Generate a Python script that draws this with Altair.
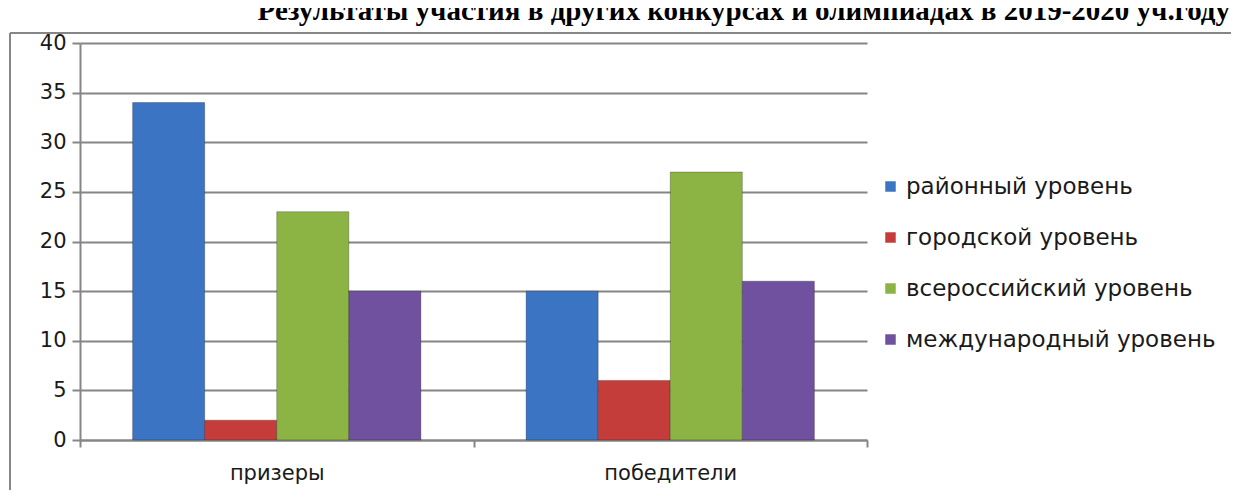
import altair as alt
import pandas as pd

categories = ["призеры", "победители"]
series = ["районный уровень", "городской уровень", "всероссийский уровень", "международный уровень"]
values_prizers = [34, 2, 23, 15]
values_winners = [15, 6, 27, 16]
colors = ["#3b74c2", "#c43d3b", "#8cb445", "#6f51a0"]
title_text = "Результаты участия в других конкурсах и олимпиадах в 2019-2020 уч.году"

rows = []
for cat, vals in zip(categories, [values_prizers, values_winners]):
    for s, v in zip(series, vals):
        rows.append({"cat": cat, "series": s, "value": v})
df = pd.DataFrame(rows)

FONT = "DejaVu Sans"
GRAY = "#868686"
TXT = "#1a1a1a"

bars = alt.Chart(df).mark_bar(stroke="#00000040", strokeWidth=1).encode(
    x=alt.X("cat:N", sort=categories, title=None,
            scale=alt.Scale(paddingInner=0, paddingOuter=0),
            axis=alt.Axis(labelAngle=0, tickBand="extent", domainColor=GRAY, domainWidth=2,
                          tickColor=GRAY, tickWidth=2, tickSize=7, labelPadding=15,
                          labelFont=FONT, labelFontSize=21, labelColor=TXT, grid=False)),
    xOffset=alt.XOffset("series:N", sort=series,
                        scale=alt.Scale(paddingInner=0, paddingOuter=0.73)),
    y=alt.Y("value:Q", title=None,
            scale=alt.Scale(domain=[0, 40], nice=False),
            axis=alt.Axis(values=list(range(0, 45, 5)), gridColor=GRAY, gridWidth=2,
                          domainColor=GRAY, domainWidth=2, tickColor=GRAY, tickWidth=2,
                          tickSize=8, labelPadding=6, labelFont=FONT, labelFontSize=21,
                          labelColor=TXT)),
    color=alt.Color("series:N", sort=series, scale=alt.Scale(domain=series, range=colors),
                    legend=alt.Legend(title=None, orient="none", legendX=799, legendY=132,
                                      symbolType="square", symbolSize=110, symbolStrokeWidth=0,
                                      labelFont=FONT, labelFontSize=23, labelColor=TXT,
                                      rowPadding=27, labelOffset=4, labelLimit=400)),
)

frame_v = alt.Chart(df).mark_rule(color=GRAY, strokeWidth=2).encode(
    x=alt.value(-70), y=alt.value(-10), y2=alt.value(520))
frame_h = alt.Chart(df).mark_rule(color=GRAY, strokeWidth=2).encode(
    x=alt.value(-70), x2=alt.value(1300), y=alt.value(-10))

title = alt.Chart(pd.DataFrame({"t": [title_text]})).mark_text(
    font="Liberation Serif", fontSize=29, fontWeight="bold", align="right",
    baseline="alphabetic", color="#000000").encode(
    text="t:N", x=alt.value(1150), y=alt.value(-23))

chart = alt.layer(frame_v, frame_h, bars, title).properties(
    width=787, height=397,
    autosize=alt.AutoSizeParams(type="none"),
    padding={"left": 72, "top": 35, "right": 364, "bottom": 50},
).configure_view(stroke=None)

chart.save("out.html", embed_options={"renderer": "svg", "actions": False})
